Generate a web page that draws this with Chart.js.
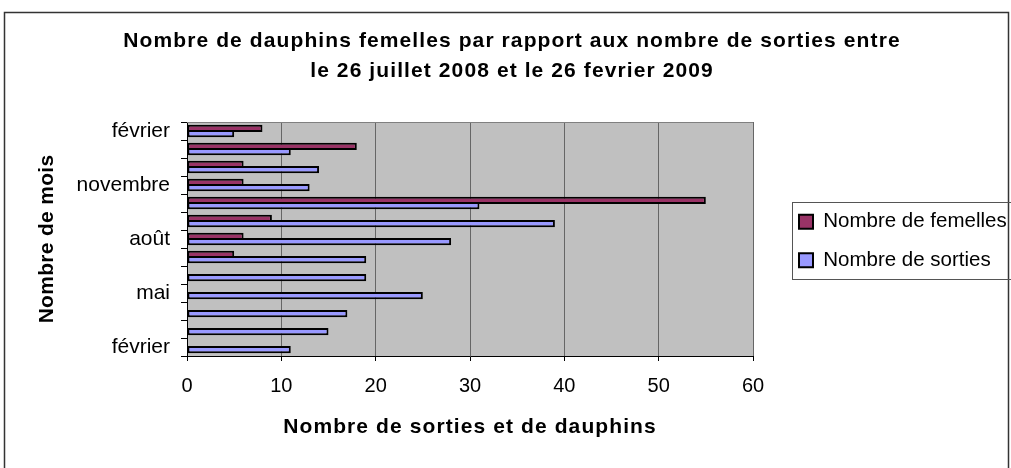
<!DOCTYPE html>
<html><head><meta charset="utf-8">
<script src="https://cdn.jsdelivr.net/npm/chart.js@4.4.1/dist/chart.umd.min.js"></script>
<style>html,body{margin:0;padding:0;background:#fff}canvas{display:block}</style>
</head><body>
<canvas id="c" width="1011" height="468"></canvas>
<script>
// Data (chronological, bottom to top)
const months = ['février','mars','avril','mai','juin','juillet','août','septembre','octobre','novembre','décembre','janvier','février'];
const sorties = [11, 15, 17, 25, 19, 19, 28, 39, 31, 13, 14, 11, 5];
const femelles = [null, null, null, null, null, 5, 6, 9, 55, 6, 6, 18, 8];
const seriesNames = ['Nombre de femelles', 'Nombre de sorties'];
const titleLines = ['Nombre de dauphins femelles par rapport aux nombre de sorties entre', 'le 26 juillet 2008 et le 26 fevrier 2009'];
const xTitle = 'Nombre de sorties et de dauphins';
const yTitle = 'Nombre de mois';
const xMin = 0, xMax = 60, xStep = 10;

const FONT = "'Liberation Sans', Arial, sans-serif";

function withSpacing(obj, method, spacing) {
  if (!obj || obj['_ls_' + method]) return;
  const orig = obj[method];
  obj[method] = function (...args) {
    const c = this.ctx;
    c.save();
    c.letterSpacing = spacing;
    const r = orig.apply(this, args);
    c.restore();
    return r;
  };
  obj['_ls_' + method] = true;
}

const deco = {
  id: 'deco',
  afterLayout(chart) {
    withSpacing(chart.titleBlock, 'draw', '1.1px');
    withSpacing(chart.scales.x, 'drawTitle', '1.1px');
    withSpacing(chart.scales.y, 'drawTitle', '0.3px');
  },
  beforeDraw(chart) {
    const {ctx, chartArea: a} = chart;
    ctx.save();
    ctx.fillStyle = '#fff';
    ctx.fillRect(0, 0, chart.width, chart.height);
    ctx.strokeStyle = '#333';
    ctx.lineWidth = 1.5;
    ctx.strokeRect(4.5, 12.5, 1004, 480);
    ctx.fillStyle = '#C0C0C0';
    ctx.fillRect(a.left, a.top, a.right - a.left, a.bottom - a.top);
    ctx.restore();
  },
  beforeDatasetsDraw(chart) {
    const {ctx, chartArea: a} = chart;
    ctx.save();
    ctx.strokeStyle = '#808080';
    ctx.lineWidth = 1;
    ctx.beginPath();
    ctx.moveTo(a.left, a.top + 0.5);
    ctx.lineTo(a.right, a.top + 0.5);
    ctx.stroke();
    ctx.restore();
  },
  afterDraw(chart) {
    const lg = chart.legend;
    if (!lg || !lg.legendHitBoxes || lg.legendHitBoxes.length < 2) return;
    const h0 = lg.legendHitBoxes[0], h1 = lg.legendHitBoxes[1];
    const ctx = chart.ctx;
    const x0 = Math.round(h0.left - 7) + 0.5;
    const top = Math.round(h0.top + h0.height / 2 - 20) + 0.5;
    const bottom = Math.round(h1.top + h1.height / 2 + 18.5) + 0.5;
    ctx.save();
    ctx.strokeStyle = '#555';
    ctx.lineWidth = 1;
    ctx.strokeRect(x0, top, 1030 - x0, bottom - top);
    ctx.restore();
  }
};

new Chart(document.getElementById('c'), {
  type: 'bar',
  data: {
    labels: months,
    datasets: [
      {label: seriesNames[0], data: femelles, backgroundColor: '#993366', borderColor: '#000', borderWidth: 2, borderSkipped: false, categoryPercentage: 0.59, barPercentage: 1.38},
      {label: seriesNames[1], data: sorties, backgroundColor: '#9999FF', borderColor: '#000', borderWidth: 2, borderSkipped: false, categoryPercentage: 0.59, barPercentage: 1.38}
    ]
  },
  options: {
    indexAxis: 'y',
    responsive: false,
    animation: false,
    devicePixelRatio: 1,
    layout: {padding: {top: 14, left: 13, right: 0, bottom: 0}},
    plugins: {
      title: {display: true, text: titleLines, color: '#000', font: {family: FONT, size: 21, weight: 'bold', lineHeight: 30 / 21}, padding: {top: 11.9, bottom: 36.1}},
      legend: {position: 'right', maxWidth: 230, labels: {color: '#000', font: {family: FONT, size: 20.5}, boxWidth: 14, boxHeight: 14, padding: 18.1}},
      tooltip: {enabled: false}
    },
    scales: {
      x: {
        type: 'linear', position: 'bottom', min: xMin, max: xMax,
        ticks: {stepSize: xStep, color: '#000', font: {family: FONT, size: 20}, padding: 13},
        grid: {color: '#666', tickColor: '#000', tickLength: 5, lineWidth: 1},
        border: {color: '#000', width: 1},
        title: {display: true, text: xTitle, color: '#000', font: {family: FONT, size: 21, weight: 'bold'}, padding: {top: 0, bottom: 27.8}},
        afterFit: s => { s.height = 112; }
      },
      y: {
        type: 'category', position: 'left', reverse: true, offset: true,
        grid: {display: true, drawOnChartArea: false, offset: true, tickLength: 6, color: '#000'},
        border: {color: '#000', width: 1},
        ticks: {autoSkip: false, color: '#000', font: {family: FONT, size: 21}, padding: 11,
          callback: function (v, i) { return i % 3 === 0 ? this.getLabelForValue(v) : ''; }},
        title: {display: true, text: yTitle, color: '#000', font: {family: FONT, size: 21, weight: 'bold'}, padding: {top: 22, bottom: 0}},
        afterFit: s => { s.width = 174; }
      },
      y2: {type: 'linear', display: false, position: 'right', weight: 0, afterFit: s => { s.width = 27.9; }},
      y3: {type: 'linear', display: false, position: 'right', weight: 2000,
        afterFit: s => { const lw = s.chart.legend ? s.chart.legend.width : 0; s.width = Math.max(0, 1011 - 753 - 27.9 - lw); }}
    }
  },
  plugins: [deco]
});
</script>
</body></html>
